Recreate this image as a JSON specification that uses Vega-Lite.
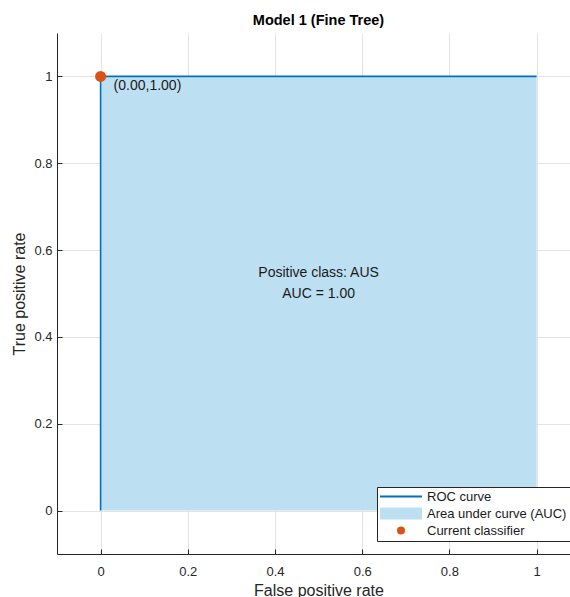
{
  "$schema": "https://vega.github.io/schema/vega-lite/v6.json",
  "width": 513,
  "height": 521,
  "autosize": "none",
  "padding": {"left": 57, "top": 33, "right": 0, "bottom": 43},
  "background": "white",
  "config": {
    "view": {"stroke": null},
    "font": "Liberation Sans"
  },
  "title": {
    "text": "Model 1 (Fine Tree)",
    "anchor": "middle",
    "dx": 5,
    "offset": 5,
    "fontSize": 14.5,
    "fontWeight": "bold",
    "color": "#000000"
  },
  "datasets": {
    "auc": [
      {"fpr": 0, "fpr2": 1, "tpr": 1, "base": 0}
    ],
    "roc": [
      {"fpr": 0, "tpr": 0, "step": 0},
      {"fpr": 0, "tpr": 1, "step": 1},
      {"fpr": 1, "tpr": 1, "step": 2}
    ],
    "classifier": [
      {"fpr": 0, "tpr": 1, "series": "Current classifier", "label": "(0.00,1.00)"}
    ],
    "notes": [
      {"fpr": 0.5, "tpr": 0.548, "text": "Positive class: AUS"},
      {"fpr": 0.5, "tpr": 0.5, "text": "AUC = 1.00"}
    ]
  },
  "layer": [
    {
      "data": {"name": "auc"},
      "mark": {"type": "rect", "color": "#BDDFF2", "opacity": 1},
      "encoding": {
        "x": {
          "field": "fpr",
          "type": "quantitative",
          "scale": {"domain": [-0.1, 1.0766], "nice": false, "zero": false},
          "axis": {
            "title": "False positive rate",
            "values": [0, 0.2, 0.4, 0.6, 0.8, 1],
            "format": "~g",
            "grid": true,
            "gridColor": "#e3e3e3",
            "domainColor": "#262626",
            "tickColor": "#262626",
            "tickSize": -5,
            "labelPadding": 16,
            "labelFontSize": 13,
            "labelColor": "#262626",
            "titleFontSize": 16,
            "titleFontWeight": "normal",
            "titleColor": "#262626",
            "titleX": 261.5,
            "titleY": 36,
            "titleBaseline": "middle"
          }
        },
        "x2": {"field": "fpr2"},
        "y": {
          "field": "tpr",
          "type": "quantitative",
          "scale": {"domain": [-0.1, 1.1], "nice": false, "zero": false},
          "axis": {
            "title": "True positive rate",
            "values": [0, 0.2, 0.4, 0.6, 0.8, 1],
            "format": "~g",
            "grid": true,
            "gridColor": "#e3e3e3",
            "domainColor": "#262626",
            "tickColor": "#262626",
            "tickSize": -5,
            "labelPadding": 10,
            "labelFontSize": 13,
            "labelColor": "#262626",
            "titleFontSize": 16,
            "titleFontWeight": "normal",
            "titleColor": "#262626",
            "titleX": -38,
            "titleY": 260.5,
            "titleBaseline": "middle"
          }
        },
        "y2": {"field": "base"}
      }
    },
    {
      "data": {"name": "roc"},
      "mark": {"type": "line", "color": "#0072BD", "strokeWidth": 1.6},
      "encoding": {
        "x": {"field": "fpr", "type": "quantitative"},
        "y": {"field": "tpr", "type": "quantitative"},
        "order": {"field": "step"}
      }
    },
    {
      "data": {"name": "classifier"},
      "mark": {"type": "point", "filled": true, "size": 121, "opacity": 1},
      "encoding": {
        "x": {"field": "fpr", "type": "quantitative"},
        "y": {"field": "tpr", "type": "quantitative"},
        "color": {
          "field": "series",
          "type": "nominal",
          "scale": {
            "domain": ["ROC curve", "Area under curve (AUC)", "Current classifier"],
            "range": ["#0072BD", "#BDDFF2", "#D95319"]
          },
          "legend": {
            "title": null,
            "orient": "none",
            "legendX": 320,
            "legendY": 454,
            "padding": 3,
            "rowPadding": 3,
            "strokeColor": "#262626",
            "fillColor": "white",
            "cornerRadius": 0,
            "labelFontSize": 13,
            "labelColor": "#1a1a1a",
            "labelLimit": 0,
            "symbolSize": 64,
            "symbolStrokeWidth": 0,
            "symbolOffset": 14.5,
            "labelOffset": 19.5,
            "symbolOpacity": 1
          }
        },
        "shape": {
          "field": "series",
          "type": "nominal",
          "scale": {
            "domain": ["ROC curve", "Area under curve (AUC)", "Current classifier"],
            "range": ["M-5.25,-0.25L5.25,-0.25L5.25,0.25L-5.25,0.25Z", "M-5.25,-1.5L5.25,-1.5L5.25,1.5L-5.25,1.5Z", "circle"]
          }
        }
      }
    },
    {
      "data": {"name": "classifier"},
      "mark": {"type": "text", "align": "left", "baseline": "middle", "dx": 13, "dy": 10, "fontSize": 14, "color": "#1a1a1a"},
      "encoding": {
        "x": {"field": "fpr", "type": "quantitative"},
        "y": {"field": "tpr", "type": "quantitative"},
        "text": {"field": "label"}
      }
    },
    {
      "data": {"name": "notes"},
      "mark": {"type": "text", "align": "center", "baseline": "middle", "fontSize": 14, "color": "#1a1a1a"},
      "encoding": {
        "x": {"field": "fpr", "type": "quantitative"},
        "y": {"field": "tpr", "type": "quantitative"},
        "text": {"field": "text"}
      }
    }
  ]
}
